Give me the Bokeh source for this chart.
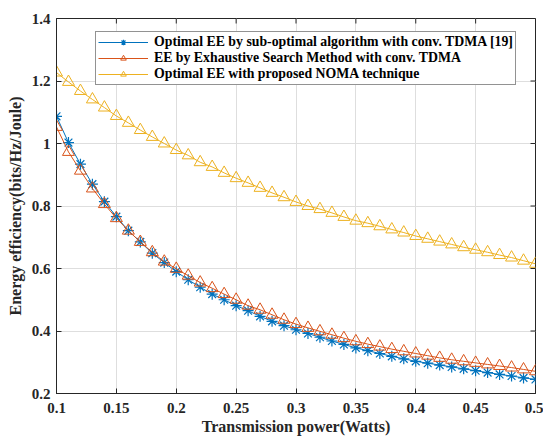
import math
from bokeh.plotting import figure
from bokeh.models import Range1d, FixedTicker, Legend, LegendItem
from bokeh.embed import file_html
from bokeh.resources import INLINE

power = [0.10, 0.11, 0.12, 0.13, 0.14, 0.15, 0.16, 0.17, 0.18, 0.19,
         0.20, 0.21, 0.22, 0.23, 0.24, 0.25, 0.26, 0.27, 0.28, 0.29,
         0.30, 0.31, 0.32, 0.33, 0.34, 0.35, 0.36, 0.37, 0.38, 0.39,
         0.40, 0.41, 0.42, 0.43, 0.44, 0.45, 0.46, 0.47, 0.48, 0.49, 0.50]

ee_suboptimal = [1.087, 1.003, 0.934, 0.870, 0.814, 0.766, 0.721, 0.685, 0.649, 0.619,
                 0.590, 0.564, 0.540, 0.518, 0.500, 0.481, 0.465, 0.447, 0.431, 0.417,
                 0.404, 0.392, 0.380, 0.368, 0.357, 0.346, 0.337, 0.328, 0.319, 0.311,
                 0.303, 0.297, 0.291, 0.285, 0.279, 0.273, 0.267, 0.261, 0.256, 0.250, 0.245]

ee_exhaustive = [1.053, 0.973, 0.913, 0.856, 0.806, 0.761, 0.721, 0.685, 0.652, 0.622,
                 0.599, 0.577, 0.555, 0.537, 0.518, 0.500, 0.481, 0.468, 0.452, 0.436,
                 0.422, 0.410, 0.399, 0.388, 0.377, 0.367, 0.358, 0.350, 0.342, 0.335,
                 0.328, 0.321, 0.314, 0.308, 0.303, 0.298, 0.293, 0.288, 0.283, 0.277, 0.271]

ee_noma = [1.227, 1.197, 1.168, 1.141, 1.115, 1.088, 1.066, 1.043, 1.021, 1.000,
           0.979, 0.962, 0.940, 0.925, 0.906, 0.889, 0.874, 0.858, 0.842, 0.828,
           0.813, 0.800, 0.790, 0.778, 0.765, 0.753, 0.745, 0.735, 0.725, 0.715,
           0.704, 0.695, 0.686, 0.677, 0.668, 0.660, 0.652, 0.643, 0.635, 0.625, 0.615]

series_labels = ["Optimal EE by sub-optimal algorithm with conv. TDMA [19]",
                 "EE by Exhaustive Search Method with conv. TDMA",
                 "Optimal EE with proposed NOMA technique"]

x_ticks = [0.1, 0.15, 0.2, 0.25, 0.3, 0.35, 0.4, 0.45, 0.5]
x_tick_labels = ["0.1", "0.15", "0.2", "0.25", "0.3", "0.35", "0.4", "0.45", "0.5"]
y_ticks = [0.2, 0.4, 0.6, 0.8, 1.0, 1.2, 1.4]
y_tick_labels = ["0.2", "0.4", "0.6", "0.8", "1", "1.2", "1.4"]

FONT = "Liberation Serif"
AX = "#262626"
BLUE = "#0072BD"
RED = "#D95319"
YELLOW = "#EDB120"

X0, X1 = 0.1, 0.5
Y0, Y1 = 0.2, 1.4

p = figure(width=543, height=437, output_backend="svg", toolbar_location=None,
           x_range=Range1d(X0, X1), y_range=Range1d(Y0, Y1),
           min_border_left=56, min_border_top=18, min_border_right=8, min_border_bottom=43)
p.outline_line_color = AX
p.outline_line_width = 1

for ax in p.axis:
    ax.axis_line_color = AX
    ax.major_tick_line_color = AX
    ax.major_tick_in = 5
    ax.major_tick_out = 0
    ax.minor_tick_line_color = None
    ax.major_label_text_font = FONT
    ax.major_label_text_font_style = "bold"
    ax.major_label_text_font_size = "15px"
    ax.major_label_text_color = AX
    ax.axis_label_text_font = FONT
    ax.axis_label_text_font_style = "bold"
    ax.axis_label_text_font_size = "16px"
    ax.axis_label_text_color = AX

bx = p.xaxis[0]
ly = p.yaxis[0]
bx.ticker = FixedTicker(ticks=x_ticks)
bx.major_label_overrides = {t: l for t, l in zip(x_ticks, x_tick_labels)}
ly.ticker = FixedTicker(ticks=y_ticks)
ly.major_label_overrides = {t: l for t, l in zip(y_ticks, y_tick_labels)}
bx.axis_label = "Transmission power(Watts)"
ly.axis_label = "Energy efficiency(bits/Hz/Joule)"
bx.major_label_standoff = 9
bx.axis_label_standoff = 2
ly.major_label_standoff = 6
ly.axis_label_standoff = 5

# inward ticks on the top and right edges of the box (MATLAB style)
p.ray(x=x_ticks, y=[Y1] * len(x_ticks), length=5, length_units="screen",
      angle=-math.pi / 2, line_color=AX, line_width=1)
p.ray(x=[X1] * len(y_ticks), y=y_ticks, length=5, length_units="screen",
      angle=math.pi, line_color=AX, line_width=1)

p.xgrid.ticker = FixedTicker(ticks=x_ticks)
p.ygrid.ticker = FixedTicker(ticks=y_ticks)
p.grid.grid_line_color = "#dedede"
p.grid.grid_line_width = 1

r1l = p.line(power, ee_suboptimal, line_color=BLUE, line_width=1)
r1m = p.scatter(power, ee_suboptimal, marker="asterisk", size=11, line_color=BLUE, line_width=1.2)
r2l = p.line(power, ee_exhaustive, line_color=RED, line_width=1)
r2m = p.scatter(power, ee_exhaustive, marker="triangle", size=12, line_color=RED,
                fill_color=None, line_width=1)
r3l = p.line(power, ee_noma, line_color=YELLOW, line_width=1)
r3m = p.scatter(power, ee_noma, marker="triangle", size=12, line_color=YELLOW,
                fill_color=None, line_width=1)

legend = Legend(items=[LegendItem(label=series_labels[0], renderers=[r1l, r1m]),
                       LegendItem(label=series_labels[1], renderers=[r2l, r2m]),
                       LegendItem(label=series_labels[2], renderers=[r3l, r3m])],
                location=(39, 308))
legend.margin = 0
legend.border_line_color = AX
legend.border_line_width = 1
legend.background_fill_color = "white"
legend.background_fill_alpha = 1
legend.label_text_font = FONT
legend.label_text_font_style = "bold"
legend.label_text_font_size = "13.8px"
legend.label_text_line_height = 1.0
legend.label_text_color = "black"
legend.glyph_width = 50
legend.glyph_height = 14
legend.label_height = 14
legend.spacing = 0
legend.padding = 2
legend.label_standoff = 6
p.add_layout(legend, "center")

open("out.html", "w").write(file_html(p, INLINE))
